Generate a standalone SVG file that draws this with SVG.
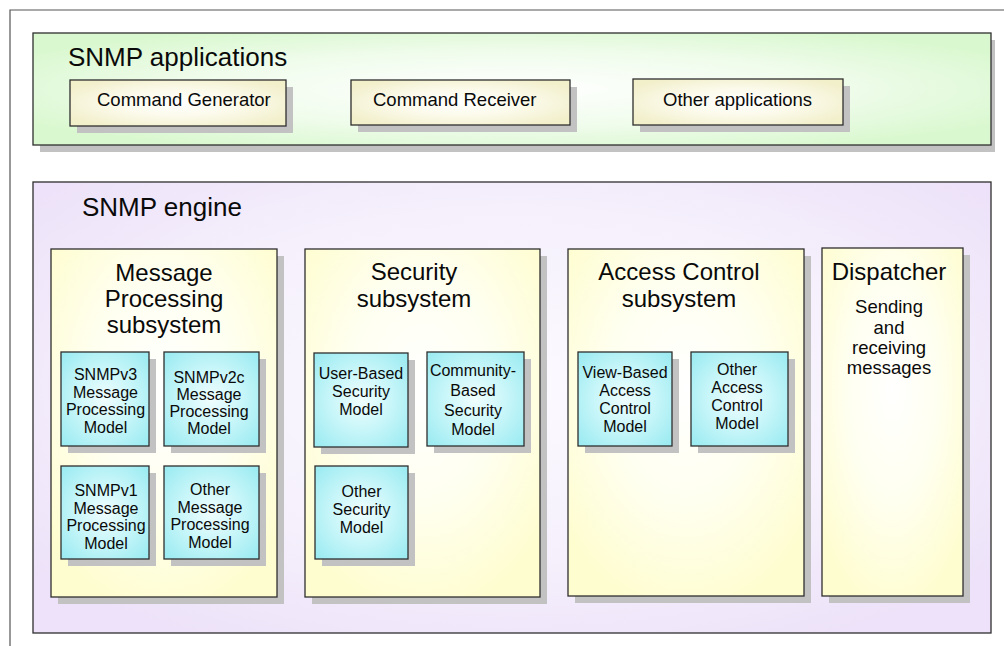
<svg xmlns="http://www.w3.org/2000/svg" width="1004" height="646" viewBox="0 0 1004 646">
  <defs>
    <radialGradient id="gGreen" cx="50%" cy="50%" r="60%">
      <stop offset="0" stop-color="#ffffff"/>
      <stop offset="0.55" stop-color="#f0fcec"/>
      <stop offset="1" stop-color="#d9f8cf"/>
    </radialGradient>
    <radialGradient id="gPurple" cx="50%" cy="45%" r="65%">
      <stop offset="0" stop-color="#fcfaff"/>
      <stop offset="0.6" stop-color="#f5f0fc"/>
      <stop offset="1" stop-color="#ede2f9"/>
    </radialGradient>
    <radialGradient id="gYellow" cx="50%" cy="40%" r="65%">
      <stop offset="0" stop-color="#ffffff"/>
      <stop offset="0.5" stop-color="#fffff0"/>
      <stop offset="1" stop-color="#fefdd0"/>
    </radialGradient>
    <radialGradient id="gCmd" cx="50%" cy="50%" r="60%">
      <stop offset="0" stop-color="#ffffff"/>
      <stop offset="0.5" stop-color="#fbfaea"/>
      <stop offset="1" stop-color="#f2efcb"/>
    </radialGradient>
    <radialGradient id="gCyan" cx="50%" cy="50%" r="65%">
      <stop offset="0" stop-color="#f0fdfe"/>
      <stop offset="0.5" stop-color="#c8f6f9"/>
      <stop offset="1" stop-color="#9eecf2"/>
    </radialGradient>
    <style>
      .frame { fill: none; stroke: #555; stroke-width: 1.2; }
      .shadow { fill: #c2c2c2; }
      .box { stroke: #2e2e2e; stroke-width: 1.3; }
      .green { fill: url(#gGreen); }
      .purple { fill: url(#gPurple); }
      .yellow { fill: url(#gYellow); }
      .cmd { fill: url(#gCmd); }
      .cyan { fill: url(#gCyan); }
      text { font-family: "Liberation Sans", Arial, Helvetica, sans-serif; fill: #0a0a0a; }
      .big { font-size: 26px; }
      .title { font-size: 24px; text-anchor: middle; }
      .label { font-size: 18.5px; }
      .small { font-size: 16px; text-anchor: middle; }
      .body { font-size: 18.5px; text-anchor: middle; }
    </style>
  </defs>

  <!-- page frame -->
  <path class="frame" d="M10,646 V10 H1004"/>

  <!-- applications layer -->
  <g id="snmp-applications">
    <rect class="shadow" x="40" y="40" width="955" height="112"/>
    <rect class="box green" x="33" y="33" width="958" height="112"/>
    <text class="big" x="68" y="66">SNMP applications</text>
  </g>
  <g id="command-generator">
    <rect class="shadow" x="77" y="87" width="216" height="46"/>
    <rect class="box cmd" x="70" y="80" width="216" height="46"/>
    <text class="label" x="97" y="106">Command Generator</text>
  </g>
  <g id="command-receiver">
    <rect class="shadow" x="358" y="87" width="219" height="45"/>
    <rect class="box cmd" x="351" y="80" width="219" height="45"/>
    <text class="label" x="373" y="106">Command Receiver</text>
  </g>
  <g id="other-applications">
    <rect class="shadow" x="640" y="86" width="210" height="46"/>
    <rect class="box cmd" x="633" y="79" width="210" height="46"/>
    <text class="label" x="663" y="106">Other applications</text>
  </g>

  <!-- engine layer -->
  <g id="snmp-engine">
    <rect class="box purple" x="33" y="182" width="958" height="451"/>
    <text class="big" x="82" y="216">SNMP engine</text>
  </g>

  <!-- Message Processing subsystem -->
  <g id="message-processing-subsystem">
    <rect class="shadow" x="58" y="256" width="226" height="348"/>
    <rect class="box yellow" x="51" y="249" width="226" height="348"/>
    <text class="title"><tspan x="164" y="280.5">Message</tspan><tspan x="164" y="307">Processing</tspan><tspan x="164" y="333">subsystem</tspan></text>
  </g>
  <g id="snmpv3-mp-model">
    <rect class="shadow" x="68" y="359" width="88" height="94"/>
    <rect class="box cyan" x="61" y="352" width="88" height="94"/>
    <text class="small"><tspan x="105.5" y="380">SNMPv3</tspan><tspan x="105.5" y="397.5">Message</tspan><tspan x="105.5" y="415">Processing</tspan><tspan x="105.5" y="432.5">Model</tspan></text>
  </g>
  <g id="snmpv2c-mp-model">
    <rect class="shadow" x="171" y="359" width="95" height="94"/>
    <rect class="box cyan" x="164" y="352" width="95" height="94"/>
    <text class="small"><tspan x="209" y="383">SNMPv2c</tspan><tspan x="209" y="400">Message</tspan><tspan x="209" y="417">Processing</tspan><tspan x="209" y="434">Model</tspan></text>
  </g>
  <g id="snmpv1-mp-model">
    <rect class="shadow" x="68" y="473" width="88" height="93"/>
    <rect class="box cyan" x="61" y="466" width="88" height="93"/>
    <text class="small"><tspan x="106" y="496">SNMPv1</tspan><tspan x="106" y="513.5">Message</tspan><tspan x="106" y="531">Processing</tspan><tspan x="106" y="548.5">Model</tspan></text>
  </g>
  <g id="other-mp-model">
    <rect class="shadow" x="171" y="473" width="95" height="93"/>
    <rect class="box cyan" x="164" y="466" width="95" height="93"/>
    <text class="small"><tspan x="210" y="495">Other</tspan><tspan x="210" y="512.5">Message</tspan><tspan x="210" y="530">Processing</tspan><tspan x="210" y="547.5">Model</tspan></text>
  </g>

  <!-- Security subsystem -->
  <g id="security-subsystem">
    <rect class="shadow" x="312" y="256" width="235" height="348"/>
    <rect class="box yellow" x="305" y="249" width="235" height="348"/>
    <text class="title"><tspan x="414" y="280">Security</tspan><tspan x="414" y="307">subsystem</tspan></text>
  </g>
  <g id="user-based-security-model">
    <rect class="shadow" x="321" y="360" width="94" height="94"/>
    <rect class="box cyan" x="314" y="353" width="94" height="94"/>
    <text class="small"><tspan x="361" y="379">User-Based</tspan><tspan x="361" y="397">Security</tspan><tspan x="361" y="414.5">Model</tspan></text>
  </g>
  <g id="community-based-security-model">
    <rect class="shadow" x="434" y="359" width="97" height="94"/>
    <rect class="box cyan" x="427" y="352" width="97" height="94"/>
    <text class="small"><tspan x="473" y="376">Community-</tspan><tspan x="473" y="396">Based</tspan><tspan x="473" y="416">Security</tspan><tspan x="473" y="435">Model</tspan></text>
  </g>
  <g id="other-security-model">
    <rect class="shadow" x="322" y="473" width="93" height="93"/>
    <rect class="box cyan" x="315" y="466" width="93" height="93"/>
    <text class="small"><tspan x="361.5" y="497">Other</tspan><tspan x="361.5" y="515">Security</tspan><tspan x="361.5" y="533">Model</tspan></text>
  </g>

  <!-- Access Control subsystem -->
  <g id="access-control-subsystem">
    <rect class="shadow" x="575" y="256" width="236" height="347"/>
    <rect class="box yellow" x="568" y="249" width="236" height="347"/>
    <text class="title"><tspan x="679" y="280">Access Control</tspan><tspan x="679" y="307">subsystem</tspan></text>
  </g>
  <g id="view-based-access-control-model">
    <rect class="shadow" x="585" y="359" width="94" height="94"/>
    <rect class="box cyan" x="578" y="352" width="94" height="94"/>
    <text class="small"><tspan x="625" y="378">View-Based</tspan><tspan x="625" y="396">Access</tspan><tspan x="625" y="414">Control</tspan><tspan x="625" y="432">Model</tspan></text>
  </g>
  <g id="other-access-control-model">
    <rect class="shadow" x="698" y="359" width="97" height="94"/>
    <rect class="box cyan" x="691" y="352" width="97" height="94"/>
    <text class="small"><tspan x="737" y="375">Other</tspan><tspan x="737" y="393">Access</tspan><tspan x="737" y="411">Control</tspan><tspan x="737" y="428.5">Model</tspan></text>
  </g>

  <!-- Dispatcher -->
  <g id="dispatcher">
    <rect class="shadow" x="829" y="255" width="141" height="348"/>
    <rect class="box yellow" x="822" y="248" width="141" height="348"/>
    <text class="title" x="889" y="280">Dispatcher</text>
    <text class="body"><tspan x="889" y="313">Sending</tspan><tspan x="889" y="333.5">and</tspan><tspan x="889" y="353.5">receiving</tspan><tspan x="889" y="374">messages</tspan></text>
  </g>

  <g id="connectors"/>
</svg>
